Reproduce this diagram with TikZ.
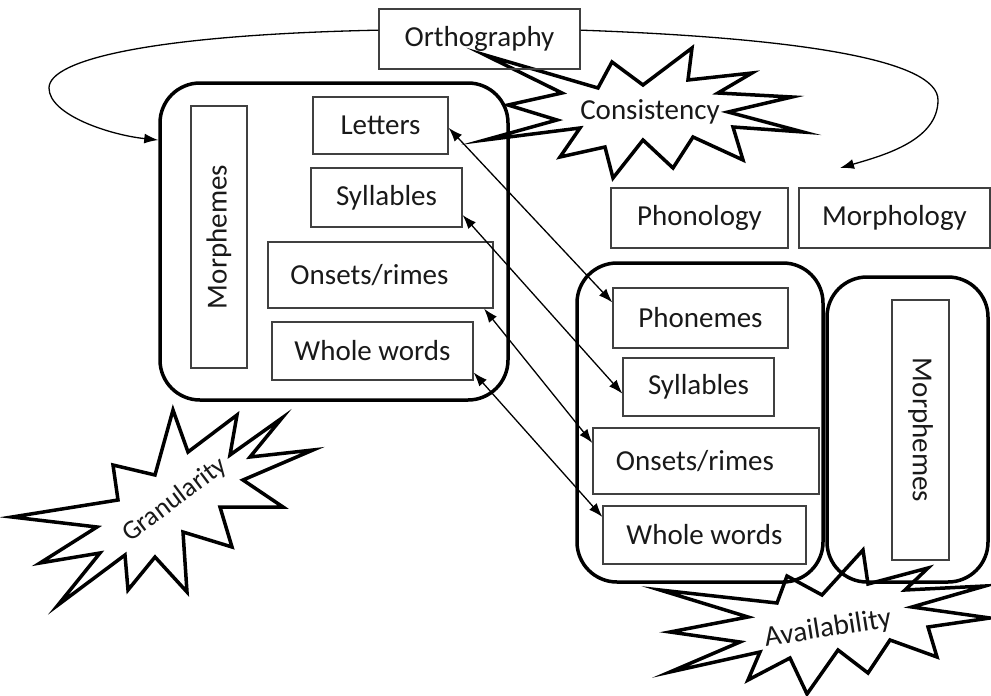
\documentclass[tikz,border=0pt]{standalone}
\usepackage{fontspec}
\setmainfont{Carlito}
\usetikzlibrary{arrows.meta}

\begin{document}
\begin{tikzpicture}[x=1pt, y=-1pt,
  every node/.style={font=\fontsize{29}{34}\selectfont, text=black!90},
  boxsize/.style 2 args={minimum width=#1, minimum height=#2},
  unitbox/.style={draw=black!75, line width=1.3pt, inner sep=0pt},
  groupbox/.style={draw, line width=3.5pt, rounded corners=40pt, inner sep=0pt},
  burstline/.style={draw, line width=3.5pt, fill=white, miter limit=20},
  link/.style={line width=1.3pt},
  >={Latex[length=14pt, width=10pt]}]
  \useasboundingbox (0, 0) rectangle (991, 696);

  \draw[burstline] (485, 55) -- (598, 88) -- (612, 62) -- (643, 85) --
    (692, 48) -- (688, 80) -- (752, 73) -- (718, 93) -- (792, 97) --
    (728, 112) -- (803, 132) -- (733, 127) -- (743, 160) -- (693, 137) --
    (673, 168) -- (643, 140) -- (613, 178) -- (605, 147) -- (560, 157) --
    (580, 128) -- (485, 140) -- (557, 120) -- (508, 105) -- (562, 93) -- cycle;
  \draw[burstline] (173, 410) -- (188, 452) -- (237, 415) -- (230, 455) --
    (282, 418) -- (250, 457) -- (313, 450) -- (243, 480) -- (283, 507) --
    (220, 507) -- (232, 547) -- (183, 532) -- (187, 592) -- (155, 557) --
    (128, 590) -- (125, 555) -- (58, 605) -- (100, 553) -- (40, 563) --
    (97, 527) -- (12, 517) -- (118, 500) -- (113, 465) -- (155, 475) -- cycle;
  \draw[burstline] (660, 590) -- (777, 603) -- (787, 576) -- (822, 595) --
    (863, 550) -- (868, 584) -- (928, 568) -- (905, 590) -- (985, 586) --
    (912, 607) -- (990, 618) -- (928, 627) -- (937, 657) -- (890, 640) --
    (868, 673) -- (838, 650) -- (807, 694) -- (790, 658) -- (748, 680) --
    (760, 652) -- (670, 672) -- (740, 642) -- (670, 632) -- (748, 617) -- cycle;

  \node (consistency) at (650, 112) {Consistency};
  \node[rotate=37, font=\fontsize{27}{32}\selectfont] (granularity) at (175, 500) {Granularity};
  \node[rotate=9] (availability) at (828, 629) {Availability};

  \node[groupbox, boxsize={348}{317}] (leftgroup) at (334, 241.5) {};
  \node[groupbox, boxsize={246}{319}] (midgroup) at (700, 422.5) {};
  \node[groupbox, boxsize={161}{305}] (rightgroup) at (907.5, 429.5) {};

  \node[unitbox, boxsize={201}{60}] (orth) at (479.5, 39) {Orthography};
  \node[unitbox, boxsize={177}{60}] (phonology) at (699.5, 218) {Phonology};
  \node[unitbox, boxsize={191}{60}] (morphology) at (894.5, 218) {Morphology};

  \node[unitbox, rotate=90, boxsize={262}{56}] (lmorph) at (219, 237) {Morphemes};
  \node[unitbox, boxsize={135}{57}] (lletters) at (380.5, 125.5) {Letters};
  \node[unitbox, boxsize={151}{59}] (lsyl) at (386.5, 197.5) {Syllables};
  \node[unitbox, boxsize={225}{66}] (lons) at (380.5, 275) {Onsets/rimes\hspace*{22pt}};
  \node[unitbox, boxsize={201}{58}] (lwhole) at (372.5, 351) {Whole words};

  \node[unitbox, boxsize={175}{60}] (phonemes) at (700.5, 318) {Phonemes};
  \node[unitbox, boxsize={151}{58}] (rsyl) at (698.5, 387) {Syllables};
  \node[unitbox, boxsize={226}{66}] (rons) at (706, 461) {Onsets/rimes\hspace*{22pt}};
  \node[unitbox, boxsize={203}{58}] (rwhole) at (704.5, 535) {Whole words};
  \node[unitbox, rotate=-90, boxsize={260}{57}] (rmorph) at (920.5, 430) {Morphemes};

  \foreach \from/\to in {lletters.-2/phonemes.170, lsyl.-13/rsyl.185,
      lons.-18/rons.171, lwhole.-12/rwhole.170} {
    \draw[link, <->] (\from) -- (\to);
  }

  \coordinate (orthtarget) at (840, 168);
  \draw[link, ->] (orth.175) .. controls (150, 35) and (49, 60) .. (49, 88)
    .. controls (49, 115) and (110, 135) .. (leftgroup.150);
  \draw[link, ->] (orth.5) .. controls (800, 38) and (938, 60) .. (938, 100)
    .. controls (938, 140) and (885, 155) .. (orthtarget);
\end{tikzpicture}
\end{document}
